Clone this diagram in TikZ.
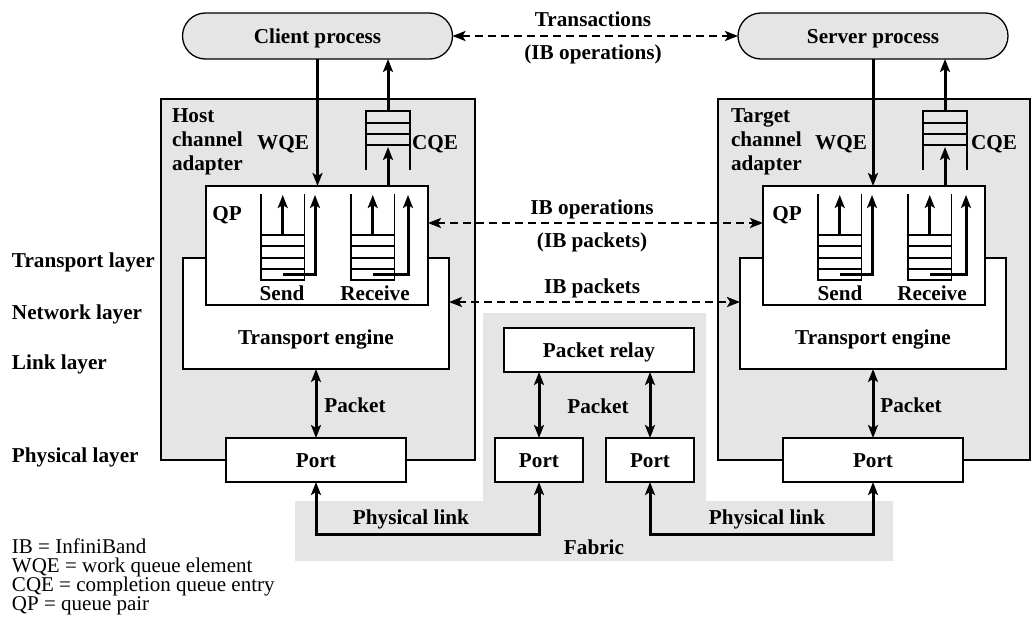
\documentclass[tikz,border=0pt]{standalone}
\usepackage{fontspec}
\setmainfont{Liberation Serif}
\usetikzlibrary{arrows.meta,calc}
\definecolor{bg}{RGB}{229,229,229}
\begin{document}
\begin{tikzpicture}[x=1pt,y=-1pt,
  every node/.style={inner sep=0pt,outer sep=0pt},
  lbl/.style={font=\fontsize{21.2}{24}\selectfont\bfseries, text height=14pt, text depth=0pt},
  leg/.style={font=\fontsize{21}{24}\selectfont, text height=14pt, text depth=0pt, anchor=west},
  multi/.style={font=\fontsize{21.2}{24}\selectfont\bfseries, align=left, anchor=base west},
  box/.style={draw, line width=1.3pt, fill=white},
  graybox/.style={draw, line width=1.3pt, fill=bg},
  pill/.style={lbl, draw, line width=1.3pt, fill=bg, rounded corners=23pt, minimum width=270pt, minimum height=46pt},
  qline/.style={line width=1.3pt},
  tip/.tip={Stealth[length=13pt,width=10pt,inset=3pt]},
  arr/.style={line width=3pt, -tip},
  darr/.style={line width=3pt, tip-tip},
  dasharr/.style={line width=2.7pt, dash pattern=on 8pt off 5pt, tip-tip},
  wq/.pic={
    \draw[qline] (0,0) -- (0,86) -- (43.5,86) -- (43.5,0);
    \foreach \yy in {41,52,64,75} \draw[qline] (0,\yy) -- (43.5,\yy);
    \draw[arr] (21.75,41) -- (21.75,1);
    \draw[arr, line join=miter] (22,80) -- (#1,80) -- (#1,1);
  },
  cq/.pic={
    \draw[qline] (0,59) -- (0,0) -- (44,0) -- (44,59);
    \foreach \yy in {12,23,34} \draw[qline] (0,\yy) -- (44,\yy);
  }
]
\useasboundingbox (0,0) rectangle (1032,619);

% fabric background
\fill[bg] (483,313) -- (706,313) -- (706,501) -- (893,501) -- (893,561) -- (295,561) -- (295,501) -- (483,501) -- cycle;

% processes
\node[pill] (client) at (317.5,36) {Client process};
\node[pill] (server) at (873,36) {Server process};

% channel adapters
\node[graybox, minimum width=314pt, minimum height=361pt] (hca) at (318,279.5) {};
\node[graybox, minimum width=312pt, minimum height=361pt] (tca) at (874,279.5) {};

% transport engines
\node[box, minimum width=266pt, minimum height=111pt] (te1) at (316,313.5) {};
\node[box, minimum width=266pt, minimum height=111pt] (te2) at (873,313.5) {};

% queue pairs
\node[box, minimum width=222pt, minimum height=119pt] (qp1) at (317,245.5) {};
\node[box, minimum width=222pt, minimum height=119pt] (qp2) at (874,245.5) {};

% ports and relay
\node[box, lbl, minimum width=180pt, minimum height=44pt] (port1) at (316,460) {Port};
\node[box, lbl, minimum width=180pt, minimum height=44pt] (port2) at (873,460) {Port};
\node[box, lbl, minimum width=88pt, minimum height=44pt] (fp1) at (539,460) {Port};
\node[box, lbl, minimum width=88pt, minimum height=44pt] (fp2) at (650,460) {Port};
\node[box, lbl, minimum width=190pt, minimum height=44pt] (relay) at (599,350) {Packet relay};

% queues
\pic at (261,194) {wq=54};
\pic at (351,194) {wq=57};
\pic at (818,194) {wq=54};
\pic at (908,194) {wq=58};
\pic at (366,111) {cq};
\pic at (923,111) {cq};

\coordinate (cqtop1) at (388,111);
\coordinate (cqin1) at (388,147);
\coordinate (cqtop2) at (945,111);
\coordinate (cqin2) at (945,147);

% WQE / CQE connectors
\draw[arr] (client.south) -- (client.south |- qp1.north);
\draw[arr] (cqin1 |- qp1.north) -- (cqin1);
\draw[arr] (cqtop1) -- (cqtop1 |- client.south);
\draw[arr] (server.south) -- (server.south |- qp2.north);
\draw[arr] (cqin2 |- qp2.north) -- (cqin2);
\draw[arr] (cqtop2) -- (cqtop2 |- server.south);

% dashed peer connectors
\draw[dasharr] (client.east) -- (server.west);
\draw[dasharr] ([yshift=22.5pt]qp1.east) -- ([yshift=22.5pt]qp2.west);
\draw[dasharr] ([yshift=11.5pt]te1.east) -- ([yshift=11.5pt]te2.west);

% packet connectors
\draw[darr] (te1.south) -- (port1.north);
\draw[darr] (te2.south) -- (port2.north);
\draw[darr] (relay.south -| fp1.north) -- (fp1.north);
\draw[darr] (relay.south -| fp2.north) -- (fp2.north);

% physical links
\draw[darr, line join=miter] (port1.south) -- ++(0,52) -| (fp1.south);
\draw[darr, line join=miter] (fp2.south) -- ++(0,52) -| (port2.south);

% labels
\node[lbl] (tr) at (593,19) {Transactions};
\node[lbl] (tr2) at (593,52) {(IB operations)};
\node[lbl] (ibo) at (592,207) {IB operations};
\node[lbl] (ibo2) at (592,240) {(IB packets)};
\node[lbl] (ibp) at (592,286) {IB packets};

\node[multi] (hcal) at (172,170) {Host\\channel\\adapter};
\node[multi] (tcal) at (731,170) {Target\\channel\\adapter};
\node[lbl] (wqe1) at (283,142) {WQE};
\node[lbl] (cqe1) at (435,142) {CQE};
\node[lbl] (wqe2) at (841,142) {WQE};
\node[lbl] (cqe2) at (994,142) {CQE};
\node[lbl] (qpl1) at (227,213) {QP};
\node[lbl] (qpl2) at (787,213) {QP};
\node[lbl] (s1) at (282,293) {Send};
\node[lbl] (r1) at (375,293) {Receive};
\node[lbl] (s2) at (840,293) {Send};
\node[lbl] (r2) at (932,293) {Receive};
\node[lbl] (tel1) at (316,337) {Transport engine};
\node[lbl] (tel2) at (873,337) {Transport engine};
\node[lbl] (pk1) at (355,405) {Packet};
\node[lbl] (pk2) at (911,405) {Packet};
\node[lbl] (pk3) at (598,406) {Packet};
\node[lbl] (pl1) at (411,517) {Physical link};
\node[lbl] (pl2) at (767,517) {Physical link};
\node[lbl] (fab) at (594,547) {Fabric};

% layer labels
\node[lbl, anchor=west] (l1) at (12,260) {Transport layer};
\node[lbl, anchor=west] (l2) at (12,312) {Network layer};
\node[lbl, anchor=west] (l3) at (12,362) {Link layer};
\node[lbl, anchor=west] (l4) at (12,455) {Physical layer};

% legend
\node[leg] (g1) at (12,546) {IB = InfiniBand};
\node[leg] (g2) at (12,565) {WQE = work queue element};
\node[leg] (g3) at (12,584) {CQE = completion queue entry};
\node[leg] (g4) at (12,603) {QP = queue pair};
\end{tikzpicture}
\end{document}
